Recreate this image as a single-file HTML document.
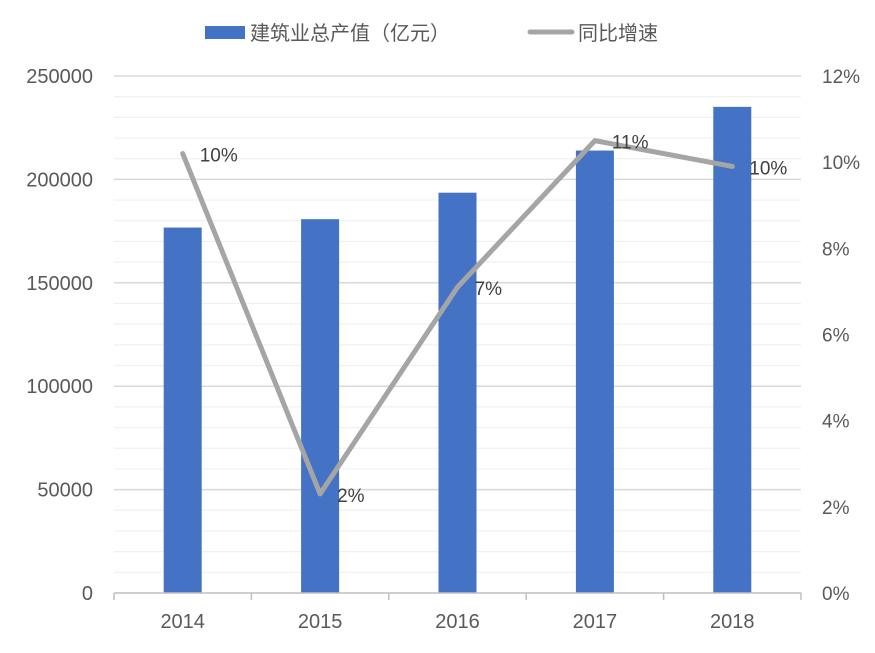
<!DOCTYPE html>
<html><head><meta charset="utf-8"><style>
body{margin:0;background:#fff;width:875px;height:648px;overflow:hidden}
svg text{font-family:"Liberation Sans","Noto Sans CJK SC",sans-serif}
</style></head><body>
<svg id="chart" width="875" height="648" xmlns="http://www.w3.org/2000/svg">
<g id="legend">
<rect x="205" y="26" width="40" height="13" fill="#4472c4"/>
<text x="250" y="40" font-size="20" fill="#595959">建筑业总产值（亿元）</text>
<line x1="530" y1="32" x2="572" y2="32" stroke="#a5a5a5" stroke-width="5" stroke-linecap="round"/>
<text x="578" y="40" font-size="20" fill="#595959">同比增速</text>
</g>
<g id="grid"></g><g id="bars"></g><g id="line"></g><g id="axes"></g>
</svg>
<script>
const categories=["2014","2015","2016","2017","2018"];
const outputValues=[176713,180757,193567,213954,235086];
const growthValues=[10.2,2.3,7.1,10.5,9.9];
const growthLabels=["10%","2%","7%","11%","10%"];
const leftTicks=[0,50000,100000,150000,200000,250000];
const rightTicks=[0,2,4,6,8,10,12];
const NS="http://www.w3.org/2000/svg";
const X0=114,X1=801,Y0=593,Y1=76,LMAX=250000,RMAX=12;
const bw=(X1-X0)/categories.length;
const xC=i=>X0+bw*(i+0.5);
const yL=v=>Y0-(v/LMAX)*(Y0-Y1);
const yR=v=>Y0-(v/RMAX)*(Y0-Y1);
function mk(tag,attrs,parent){const e=document.createElementNS(NS,tag);for(const k in attrs)e.setAttribute(k,attrs[k]);document.getElementById(parent).appendChild(e);return e;}
for(let v=10000;v<=LMAX;v+=10000){
 const major=v%50000===0;
 const l=mk('line',{x1:X0,x2:X1,y1:yL(v),y2:yL(v),stroke:major?'#d9d9d9':'#f0f0f0','stroke-width':major?1.5:1.2},'grid');
 
 
}
outputValues.forEach((v,i)=>{
 const r=mk('rect',{x:xC(i)-19,y:yL(v),width:38,height:Y0-yL(v),fill:'#4472c4'},'bars');
 
 
});
const pl=mk('polyline',{points:growthValues.map((v,i)=>xC(i)+','+yR(v)).join(' '),fill:'none',stroke:'#a5a5a5','stroke-width':5,'stroke-linejoin':'round','stroke-linecap':'round'},'line');


growthValues.forEach((v,i)=>{
 const t=mk('text',{x:xC(i)+17,y:yR(v)+8,'font-size':19,fill:'#404040'},'line');
 t.textContent=growthLabels[i];
 
 
});
const ax=mk('line',{x1:X0,x2:X1,y1:Y0,y2:Y0,stroke:'#bfbfbf','stroke-width':1.5},'axes');


for(let i=0;i<=categories.length;i++){
 const tk=mk('line',{x1:X0+bw*i,x2:X0+bw*i,y1:Y0,y2:Y0+7,stroke:'#bfbfbf','stroke-width':1.5},'axes');
 
 
}
categories.forEach((c,i)=>{
 const t=mk('text',{x:xC(i),y:628,'font-size':20,fill:'#595959','text-anchor':'middle'},'axes');
 t.textContent=c;
 
 
});
leftTicks.forEach(v=>{
 const t=mk('text',{x:93,y:yL(v)+7,'font-size':20,fill:'#595959','text-anchor':'end'},'axes');
 t.textContent=v;
 
 
});
rightTicks.forEach(v=>{
 const t=mk('text',{x:822,y:yR(v)+7,'font-size':19,fill:'#595959'},'axes');
 t.textContent=v+'%';
 
 
});
</script>
</body></html>
